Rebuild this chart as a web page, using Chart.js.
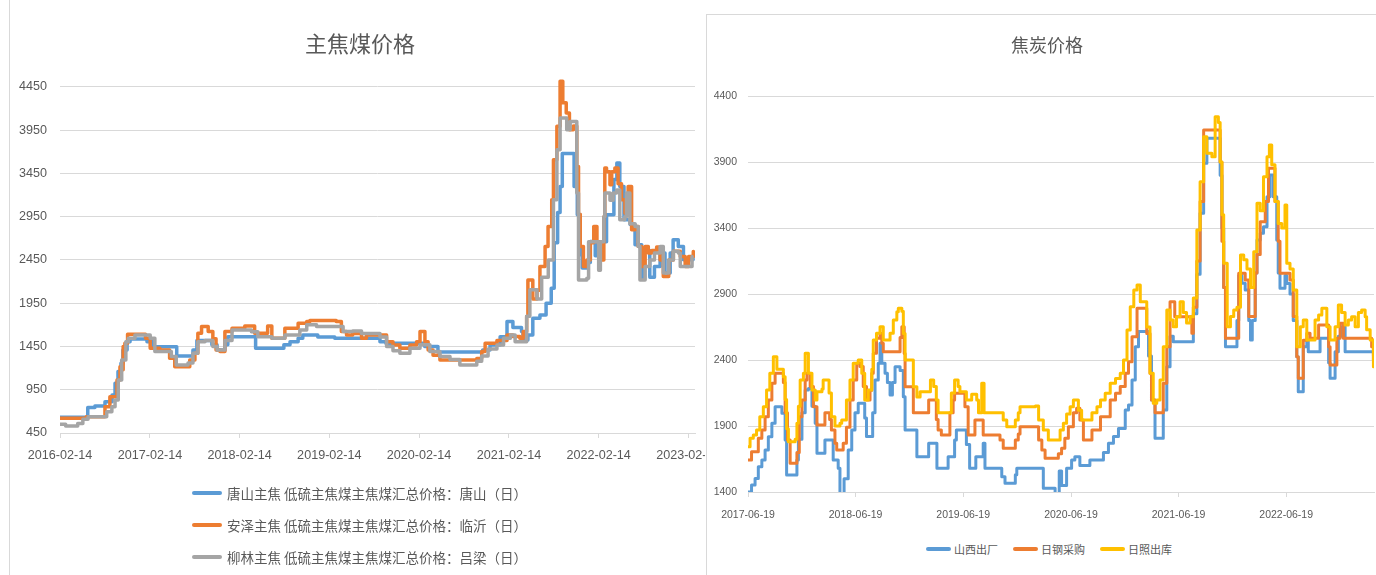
<!DOCTYPE html>
<html>
<head>
<meta charset="utf-8">
<script src="https://cdn.jsdelivr.net/npm/chart.js@4.4.1/dist/chart.umd.min.js"></script>
<style>
  body { margin: 0; width: 1376px; height: 575px; overflow: hidden; position: relative; background: #fff; color: #595959; font-family: 'Noto Sans CJK SC', sans-serif; }
  .panel { position: absolute; box-sizing: border-box; border: 1px solid #d9d9d9; background: #fff; }
  .box { position: absolute; }
  .title { position: absolute; transform: translate(-50%, -50%); white-space: nowrap; line-height: 1; }
  .legend-left { position: absolute; left: 192px; top: 477px; }
  .legend-left .item { display: flex; align-items: center; height: 32px; font-size: 13.5px; white-space: nowrap; }
  .legend-left .swatch { width: 30px; height: 4px; margin-right: 5px; }
  .legend-right { position: absolute; left: 926px; top: 539px; display: flex; }
  .legend-right .item { display: flex; align-items: center; height: 20px; font-size: 11px; margin-right: 15px; white-space: nowrap; }
  .legend-right .swatch { width: 25px; height: 4px; margin-right: 3px; }
  .swatch { border-radius: 2px; display: inline-block; }
</style>
</head>
<body>
<div class="panel" style="left:9px;top:-1px;width:699px;height:578px;border-right:none"></div>
<div class="box" style="left:10px;top:0;width:695px;height:480px"><canvas id="left"></canvas></div>
<div class="title" id="titleLeft" style="left:360px;top:42px;font-size:22px"></div>
<div class="legend-left" id="legendLeft"></div>
<div class="panel" style="left:706px;top:14px;width:672px;height:564px"></div>
<div class="box" style="left:707px;top:14px;width:669px;height:520px"><canvas id="right"></canvas></div>
<div class="title" id="titleRight" style="left:1047px;top:44px;font-size:18px"></div>
<div class="legend-right" id="legendRight"></div>
<script>
// 主焦煤价格
const leftTitle = '主焦煤价格';
const leftLabels = ['唐山主焦 低硫主焦煤主焦煤汇总价格：唐山（日）', '安泽主焦 低硫主焦煤主焦煤汇总价格：临沂（日）', '柳林主焦 低硫主焦煤主焦煤汇总价格：吕梁（日）'];
const leftTicksX = ['2016-02-14', '2017-02-14', '2018-02-14', '2019-02-14', '2020-02-14', '2021-02-14', '2022-02-14', '2023-02-14'];
const leftTicksY = [450, 950, 1450, 1950, 2450, 2950, 3450, 3950, 4450];

const tsDates = ['2016-02-14', '2016-06-06', '2016-07-05', '2016-08-15', '2016-09-13', '2016-09-25', '2016-10-07', '2016-10-19', '2016-10-27', '2016-11-13',
  '2016-11-25', '2017-02-02', '2017-02-27', '2017-06-03', '2017-08-08', '2017-08-24', '2017-10-24', '2017-11-14', '2017-12-16', '2017-12-28',
  '2018-04-20', '2018-08-13', '2018-09-07', '2018-10-10', '2018-10-29', '2018-12-29', '2019-03-08', '2019-09-08', '2019-10-02', '2020-03-08',
  '2020-05-01', '2020-10-30', '2020-11-29', '2021-01-09', '2021-02-06', '2021-03-02', '2021-04-06', '2021-04-12', '2021-05-02', '2021-05-22',
  '2021-06-20', '2021-07-15', '2021-08-05', '2021-08-17', '2021-08-31', '2021-09-10', '2021-09-19', '2021-11-06', '2021-11-19', '2021-12-01',
  '2021-12-09', '2021-12-29', '2022-01-11', '2022-01-31', '2022-03-03', '2022-03-18', '2022-04-17', '2022-04-29', '2022-05-11', '2022-05-28',
  '2022-06-22', '2022-07-12', '2022-08-08', '2022-08-20', '2022-09-10', '2022-09-29', '2022-10-22', '2022-11-11', '2022-12-02', '2022-12-14',
  '2023-01-04', '2023-01-25', '2023-03-05'];
const tsVals = [632, 745, 762, 812, 890, 1025, 1160, 1256, 1410, 1506,
  1537, 1506, 1448, 1340, 1410, 1518, 1470, 1410, 1470, 1564,
  1430, 1470, 1506, 1545, 1584, 1560, 1545, 1506, 1488, 1450,
  1385, 1410, 1466, 1564, 1738, 1670, 1622, 1526, 1584, 1777,
  1815, 1950, 2124, 2650, 3000, 3300, 3680, 3300, 2972, 2510,
  2356, 2420, 2664, 2500, 2660, 2972, 3380, 3570, 3300, 2915,
  2860, 2625, 2230, 2560, 2250, 2375, 2530, 2300, 2530, 2683,
  2606, 2452, 2490];

const azDates = ['2016-02-14', '2016-05-31', '2016-08-15', '2016-09-04', '2016-10-03', '2016-10-15', '2016-10-23', '2016-10-28', '2016-11-04', '2016-11-15',
  '2017-01-27', '2017-02-15', '2017-03-26', '2017-05-05', '2017-05-26', '2017-07-26', '2017-08-16', '2017-08-28', '2017-09-12', '2017-10-09',
  '2017-10-28', '2017-11-10', '2017-11-26', '2017-12-16', '2018-01-14', '2018-03-07', '2018-04-16', '2018-06-08', '2018-06-25', '2018-08-17',
  '2018-10-10', '2018-11-14', '2018-11-27', '2019-03-14', '2019-04-04', '2019-04-25', '2019-05-20', '2019-06-25', '2019-07-15', '2019-10-05',
  '2019-10-31', '2019-11-28', '2020-01-08', '2020-02-04', '2020-02-18', '2020-03-09', '2020-03-22', '2020-04-11', '2020-05-09', '2020-10-06',
  '2020-10-26', '2020-11-09', '2020-12-27', '2021-02-06', '2021-03-02', '2021-03-30', '2021-04-13', '2021-04-27', '2021-05-02', '2021-05-22',
  '2021-06-08', '2021-06-20', '2021-07-11', '2021-07-23', '2021-08-07', '2021-08-14', '2021-08-28', '2021-09-10', '2021-09-21', '2021-10-05',
  '2021-10-18', '2021-11-03', '2021-11-17', '2021-11-24', '2021-12-01', '2021-12-14', '2021-12-28', '2022-01-11', '2022-01-25', '2022-02-07',
  '2022-02-21', '2022-03-07', '2022-03-11', '2022-03-18', '2022-04-01', '2022-04-08', '2022-04-21', '2022-05-04', '2022-05-18', '2022-06-01',
  '2022-06-14', '2022-06-28', '2022-07-12', '2022-07-25', '2022-08-08', '2022-08-22', '2022-09-04', '2022-09-18', '2022-10-08', '2022-10-22',
  '2022-11-04', '2022-11-26', '2022-12-15', '2023-01-12', '2023-02-01', '2023-02-15', '2023-03-06'];
const azVals = [620, 639, 754, 870, 1063, 1217, 1180, 1450, 1488, 1592,
  1545, 1430, 1410, 1314, 1217, 1295, 1372, 1603, 1680, 1622,
  1540, 1410, 1391, 1622, 1660, 1688, 1603, 1688, 1545, 1660,
  1719, 1738, 1750, 1738, 1622, 1584, 1600, 1545, 1584, 1506,
  1468, 1430, 1468, 1506, 1622, 1506, 1410, 1350, 1295, 1310,
  1391, 1488, 1520, 1584, 1565, 1545, 1622, 1796, 2220, 2000,
  2100, 2375, 2606, 2837, 3146, 3609, 3995, 4517, 4267, 4150,
  3956, 4000, 3532, 2980, 2606, 2375, 2450, 2650, 2837, 2660,
  2450, 2950, 3513, 3470, 3320, 3470, 3513, 3330, 3146, 2990,
  3300, 2800, 2837, 2606, 2375, 2606, 2530, 2560, 2600, 2450,
  2259, 2450, 2550, 2490, 2375, 2490, 2548];

const llDates = ['2016-02-14', '2016-03-08', '2016-04-26', '2016-05-17', '2016-06-07', '2016-08-22', '2016-09-12', '2016-09-25', '2016-10-08', '2016-10-22',
  '2016-11-08', '2016-11-18', '2016-12-15', '2017-02-15', '2017-03-06', '2017-05-12', '2017-06-01', '2017-07-19', '2017-08-08', '2017-08-28',
  '2017-09-26', '2017-10-28', '2017-11-14', '2017-12-16', '2018-01-14', '2018-04-03', '2018-04-29', '2018-06-25', '2018-08-17', '2018-10-17',
  '2018-11-14', '2018-12-24', '2019-04-11', '2019-05-20', '2019-06-25', '2019-09-08', '2019-10-05', '2019-10-31', '2019-11-28', '2020-01-08',
  '2020-02-18', '2020-03-29', '2020-05-09', '2020-06-19', '2020-07-29', '2020-10-06', '2020-10-26', '2020-11-21', '2020-12-27', '2021-01-23',
  '2021-02-20', '2021-03-11', '2021-04-27', '2021-05-10', '2021-06-08', '2021-06-27', '2021-07-24', '2021-08-14', '2021-08-28', '2021-09-10',
  '2021-10-07', '2021-10-21', '2021-11-17', '2021-11-24', '2021-12-28', '2022-01-04', '2022-02-14', '2022-02-21', '2022-03-07', '2022-03-11',
  '2022-04-01', '2022-04-14', '2022-04-28', '2022-05-11', '2022-05-31', '2022-06-07', '2022-06-21', '2022-07-12', '2022-07-25', '2022-08-01',
  '2022-08-22', '2022-09-10', '2022-09-29', '2022-10-22', '2022-11-04', '2022-11-26', '2022-12-15', '2023-01-04', '2023-01-12', '2023-02-15',
  '2023-03-01'];
const llVals = [550, 531, 560, 608, 639, 696, 754, 832, 1063, 1295,
  1506, 1545, 1584, 1545, 1391, 1333, 1237, 1260, 1372, 1506,
  1520, 1450, 1410, 1520, 1642, 1620, 1564, 1545, 1584, 1642,
  1700, 1680, 1622, 1630, 1600, 1560, 1450, 1400, 1372, 1430,
  1470, 1391, 1333, 1300, 1237, 1280, 1340, 1420, 1468, 1545,
  1584, 1506, 1800, 2105, 2000, 2250, 2450, 3146, 3724, 4091,
  3956, 4052, 3224, 2220, 2240, 2660, 2330, 2660, 2950, 3224,
  3140, 3224, 3260, 2915, 2950, 3224, 2870, 2837, 2606, 2220,
  2375, 2450, 2530, 2606, 2300, 2450, 2550, 2530, 2375, 2375,
  2490];

// 焦炭价格
const rightTitle = '焦炭价格';
const rightLabels = ['山西出厂', '日钢采购', '日照出库'];
const rightTicksX = ['2017-06-19', '2018-06-19', '2019-06-19', '2020-06-19', '2021-06-19', '2022-06-19'];
const rightTicksY = [1400, 1900, 2400, 2900, 3400, 3900, 4400];

const sxDates = ['2017-06-19', '2017-07-01', '2017-07-13', '2017-07-24', '2017-08-05', '2017-08-16', '2017-08-27', '2017-09-08', '2017-09-19', '2017-10-12',
  '2017-10-23', '2017-10-28', '2017-12-02', '2017-12-07', '2017-12-19', '2017-12-30', '2018-01-10', '2018-01-22', '2018-02-02', '2018-02-08',
  '2018-03-07', '2018-04-04', '2018-04-21', '2018-04-27', '2018-05-11', '2018-05-25', '2018-06-06', '2018-06-17', '2018-06-28', '2018-07-20',
  '2018-07-26', '2018-08-16', '2018-08-24', '2018-09-04', '2018-09-10', '2018-09-16', '2018-09-27', '2018-10-05', '2018-10-14', '2018-10-22',
  '2018-10-31', '2018-11-17', '2018-11-28', '2018-12-04', '2019-01-13', '2019-02-22', '2019-03-22', '2019-04-29', '2019-05-21', '2019-05-27',
  '2019-06-30', '2019-07-11', '2019-08-01', '2019-08-26', '2019-09-01', '2019-10-28', '2019-11-08', '2019-12-13', '2019-12-18', '2020-03-17',
  '2020-04-26', '2020-05-10', '2020-05-18', '2020-06-04', '2020-06-21', '2020-07-02', '2020-07-19', '2020-08-22', '2020-10-07', '2020-10-24',
  '2020-11-10', '2020-11-27', '2020-12-20', '2020-12-31', '2021-01-12', '2021-01-23', '2021-02-03', '2021-03-09', '2021-03-19', '2021-03-31',
  '2021-04-28', '2021-05-10', '2021-05-21', '2021-06-01', '2021-08-08', '2021-08-20', '2021-08-31', '2021-09-12', '2021-09-23', '2021-11-07',
  '2021-11-13', '2021-11-19', '2021-11-25', '2022-01-03', '2022-01-09', '2022-01-20', '2022-01-31', '2022-02-12', '2022-02-18', '2022-02-24',
  '2022-03-06', '2022-03-12', '2022-03-23', '2022-04-03', '2022-04-15', '2022-04-25', '2022-05-06', '2022-05-18', '2022-05-23', '2022-05-29',
  '2022-06-15', '2022-06-21', '2022-07-02', '2022-07-13', '2022-07-25', '2022-07-30', '2022-08-16', '2022-08-28', '2022-09-02', '2022-10-12',
  '2022-11-10', '2022-11-15', '2022-12-02', '2022-12-13', '2022-12-24', '2023-01-05', '2023-04-11'];
const sxVals = [1400, 1453, 1503, 1592, 1642, 1718, 1819, 1920, 2046, 1996,
  1794, 1529, 1642, 1800, 2000, 2173, 2185, 2050, 1920, 1693,
  1794, 1642, 1580, 1380, 1500, 1718, 1870, 2000, 2072, 1960,
  1820, 2000, 2248, 2375, 2526, 2375, 2299, 2230, 2135, 2230,
  2349, 2320, 2122, 1870, 1667, 1769, 1580, 1667, 1794, 1870,
  1760, 1580, 1667, 1769, 1580, 1516, 1466, 1530, 1580, 1428,
  1350, 1560, 1450, 1580, 1642, 1667, 1600, 1642, 1700, 1769,
  1820, 1882, 2021, 2060, 2248, 2501, 2615, 2430, 2097, 1807,
  2021, 2349, 2580, 2539, 2750, 3050, 3511, 3890, 4079, 3800,
  3400, 2950, 2501, 2700, 3040, 2981, 2930, 2700, 2552, 2700,
  3060, 3309, 3360, 3410, 3637, 3802, 3637, 3309, 3060, 2943,
  3040, 2980, 2900, 2700, 2425, 2160, 2501, 2552, 2463, 2564,
  2380, 2261, 2463, 2580, 2652, 2463, 2400];

const rgDates = ['2017-06-19', '2017-07-01', '2017-07-24', '2017-08-05', '2017-08-16', '2017-08-27', '2017-09-08', '2017-09-19', '2017-10-17', '2017-10-23',
  '2017-10-31', '2017-11-09', '2017-12-02', '2017-12-10', '2017-12-19', '2017-12-30', '2018-01-05', '2018-01-16', '2018-01-27', '2018-02-08',
  '2018-03-07', '2018-03-23', '2018-03-29', '2018-04-10', '2018-04-16', '2018-05-08', '2018-05-19', '2018-05-31', '2018-06-11', '2018-06-23',
  '2018-07-04', '2018-07-15', '2018-07-26', '2018-08-07', '2018-08-13', '2018-08-18', '2018-08-29', '2018-09-10', '2018-09-16', '2018-09-21',
  '2018-11-17', '2018-11-23', '2018-12-01', '2018-12-04', '2019-01-01', '2019-02-22', '2019-03-20', '2019-03-26', '2019-04-06', '2019-05-05',
  '2019-05-16', '2019-05-21', '2019-06-25', '2019-07-06', '2019-07-29', '2019-08-26', '2019-10-22', '2019-11-02', '2019-12-13', '2019-12-23',
  '2019-12-29', '2020-03-01', '2020-03-12', '2020-03-23', '2020-05-07', '2020-05-18', '2020-05-29', '2020-06-10', '2020-06-27', '2020-07-08',
  '2020-07-19', '2020-07-31', '2020-08-29', '2020-09-27', '2020-10-30', '2020-11-17', '2020-12-03', '2020-12-20', '2020-12-31', '2021-01-12',
  '2021-01-29', '2021-03-03', '2021-03-14', '2021-03-19', '2021-03-31', '2021-04-28', '2021-05-10', '2021-05-21', '2021-06-06', '2021-08-03',
  '2021-08-08', '2021-08-20', '2021-08-31', '2021-09-12', '2021-11-07', '2021-11-13', '2021-11-19', '2021-11-25', '2022-01-09', '2022-01-31',
  '2022-02-12', '2022-03-06', '2022-03-12', '2022-03-23', '2022-04-09', '2022-04-20', '2022-05-12', '2022-05-23', '2022-05-29', '2022-07-02',
  '2022-07-13', '2022-07-25', '2022-07-30', '2022-08-16', '2022-08-28', '2022-09-08', '2022-10-07', '2022-11-10', '2022-11-15', '2022-12-08',
  '2022-12-19', '2022-12-30', '2023-04-05', '2023-04-11'];
const rgVals = [1642, 1705, 1807, 1870, 1970, 2097, 2223, 2299, 2230, 2000,
  1794, 1617, 1700, 1970, 2097, 2248, 2299, 2200, 2046, 1908,
  2000, 1950, 1870, 1769, 1718, 1769, 1890, 2097, 2248, 2375,
  2350, 2200, 2097, 2170, 2299, 2451, 2564, 2600, 2526, 2463,
  2570, 2652, 2450, 2198, 2000, 2097, 1950, 1870, 1832, 2000,
  2097, 2148, 2046, 1832, 1945, 1832, 1794, 1731, 1794, 1840,
  1895, 1794, 1718, 1655, 1690, 1731, 1807, 1895, 2000, 2034,
  1945, 1794, 1870, 1970, 2097, 2148, 2200, 2299, 2387, 2577,
  2792, 2600, 2299, 2097, 2000, 2223, 2500, 2842, 2728, 2602,
  2800, 3150, 3600, 4143, 3900, 3300, 2950, 2564, 3057, 3007,
  2730, 3060, 3200, 3448, 3600, 3852, 3600, 3300, 3057, 3007,
  2730, 2425, 2261, 2550, 2602, 2564, 2665, 2500, 2362, 2564,
  2678, 2564, 2500, 2430];

const rzDates = ['2017-06-19', '2017-06-26', '2017-07-07', '2017-07-18', '2017-07-29', '2017-08-10', '2017-08-21', '2017-09-01', '2017-09-13', '2017-09-25',
  '2017-10-17', '2017-10-23', '2017-10-28', '2017-11-03', '2017-11-26', '2017-12-02', '2017-12-07', '2017-12-13', '2017-12-24', '2017-12-30',
  '2018-01-10', '2018-01-22', '2018-02-02', '2018-02-08', '2018-02-25', '2018-03-01', '2018-03-21', '2018-03-29', '2018-04-10', '2018-04-27',
  '2018-05-03', '2018-05-19', '2018-05-31', '2018-06-11', '2018-06-28', '2018-07-10', '2018-07-20', '2018-08-01', '2018-08-13', '2018-08-18',
  '2018-08-29', '2018-09-10', '2018-09-21', '2018-10-14', '2018-10-25', '2018-11-06', '2018-11-11', '2018-11-23', '2018-11-28', '2018-12-04',
  '2018-12-26', '2019-01-01', '2019-01-13', '2019-01-24', '2019-02-28', '2019-03-11', '2019-03-20', '2019-03-26', '2019-04-29', '2019-05-10',
  '2019-05-21', '2019-06-02', '2019-06-08', '2019-06-30', '2019-07-18', '2019-08-04', '2019-08-10', '2019-08-21', '2019-08-29', '2019-10-22',
  '2019-11-02', '2019-11-14', '2019-12-01', '2019-12-13', '2019-12-23', '2019-12-29', '2020-02-19', '2020-03-01', '2020-03-17', '2020-04-03',
  '2020-05-02', '2020-05-13', '2020-05-24', '2020-06-04', '2020-06-16', '2020-06-27', '2020-07-14', '2020-07-25', '2020-08-17', '2020-08-29',
  '2020-09-15', '2020-09-27', '2020-10-13', '2020-10-30', '2020-11-17', '2020-12-03', '2020-12-14', '2020-12-26', '2021-01-06', '2021-01-18',
  '2021-01-29', '2021-02-09', '2021-03-03', '2021-03-14', '2021-03-25', '2021-04-06', '2021-04-17', '2021-04-28', '2021-05-10', '2021-05-21',
  '2021-06-01', '2021-06-12', '2021-06-24', '2021-07-05', '2021-07-16', '2021-07-28', '2021-08-08', '2021-08-20', '2021-08-31', '2021-09-12',
  '2021-09-23', '2021-10-10', '2021-10-21', '2021-11-01', '2021-11-07', '2021-11-13', '2021-11-19', '2021-12-01', '2021-12-12', '2021-12-23',
  '2022-01-03', '2022-01-15', '2022-01-26', '2022-02-06', '2022-02-18', '2022-03-01', '2022-03-12', '2022-03-23', '2022-04-03', '2022-04-15',
  '2022-04-23', '2022-05-01', '2022-05-12', '2022-05-23', '2022-06-04', '2022-06-15', '2022-06-21', '2022-07-02', '2022-07-13', '2022-07-25',
  '2022-08-06', '2022-08-16', '2022-08-28', '2022-09-08', '2022-09-25', '2022-10-07', '2022-10-18', '2022-11-04', '2022-11-15', '2022-12-02',
  '2022-12-13', '2022-12-24', '2023-01-05', '2023-01-16', '2023-01-27', '2023-02-08', '2023-02-19', '2023-03-02', '2023-03-14', '2023-03-19',
  '2023-03-31', '2023-04-11'];
const rzVals = [1743, 1807, 1832, 1870, 1970, 2046, 2173, 2299, 2425, 2330,
  2274, 2100, 1880, 1780, 1800, 1920, 2050, 2248, 2300, 2451,
  2300, 2173, 2097, 2160, 2180, 2248, 2150, 1970, 1900, 1920,
  1945, 2097, 2248, 2375, 2400, 2300, 2097, 2173, 2330, 2552,
  2602, 2652, 2552, 2602, 2703, 2766, 2792, 2770, 2600, 2400,
  2400, 2198, 2120, 2160, 2248, 2200, 2097, 2000, 2000, 2150,
  2248, 2200, 2160, 2097, 2140, 2097, 2000, 2223, 2000, 2000,
  1945, 1895, 1895, 1945, 2000, 2046, 2052, 1945, 1870, 1794,
  1794, 1870, 1920, 1990, 2046, 2097, 2020, 1945, 1945, 2000,
  2046, 2097, 2148, 2223, 2260, 2299, 2400, 2627, 2804, 2930,
  2968, 2842, 2650, 2299, 2072, 2097, 2248, 2501, 2779, 2703,
  2652, 2728, 2842, 2760, 2680, 2728, 2870, 3385, 3750, 4092,
  3966, 3940, 4243, 4200, 3900, 3500, 3133, 2652, 2730, 2779,
  2800, 3195, 3160, 3090, 2950, 3220, 3587, 3530, 3789, 3940,
  4029, 3880, 3600, 3435, 3400, 3574, 3133, 3090, 2930, 2501,
  2652, 2703, 2552, 2552, 2703, 2740, 2792, 2652, 2552, 2652,
  2817, 2760, 2665, 2703, 2728, 2652, 2760, 2779, 2728, 2630,
  2552, 2349];

const COLORS = ['#5B9BD5', '#ED7D31', '#A5A5A5'];
const RIGHT_COLORS = ['#5B9BD5', '#ED7D31', '#FFC000'];
const TEXT = '#595959';
const GRID = '#d9d9d9';

Chart.defaults.font.family = "'Liberation Sans', 'Noto Sans CJK SC', sans-serif";
Chart.defaults.color = TEXT;

const day = s => Date.parse(s) / 864e5;
const toPoints = (dates, vals) => dates.map((d, i) => ({ x: day(d), y: vals[i] }));

function line(label, color, dates, vals, width, order) {
  return {
    label,
    data: toPoints(dates, vals),
    borderColor: color,
    backgroundColor: color,
    borderWidth: width,
    stepped: true,
    pointRadius: 0,
    borderJoinStyle: 'round',
    borderCapStyle: 'round',
    order
  };
}

function makeChart(el, cfg) {
  return new Chart(el, {
    type: 'line',
    data: { datasets: cfg.datasets },
    options: {
      responsive: true,
      maintainAspectRatio: false,
      animation: false,
      layout: { padding: cfg.padding },
      plugins: {
        legend: { display: false },
        tooltip: { enabled: false },
        title: { display: false }
      },
      scales: {
        x: {
          type: 'linear',
          min: day(cfg.xMin),
          max: day(cfg.xMax),
          grid: { drawOnChartArea: false, drawTicks: true, tickLength: 5, color: GRID },
          border: { display: true, color: GRID },
          ticks: {
            autoSkip: false, maxRotation: 0, minRotation: 0,
            padding: cfg.xPad,
            font: { size: cfg.tickSize },
            callback: (v, i) => cfg.ticksX[i]
          },
          afterBuildTicks: s => { s.ticks = cfg.ticksX.map(d => ({ value: day(d) })); },
          afterFit: s => { s.height = cfg.xHeight; s.paddingLeft = 0; s.paddingRight = 0; }
        },
        y: {
          min: cfg.yMin,
          max: cfg.yMax,
          grid: { color: GRID, drawTicks: false },
          border: { display: false },
          ticks: { padding: cfg.yPad, font: { size: cfg.tickSize }, callback: v => String(v) },
          afterBuildTicks: s => { s.ticks = cfg.ticksY.map(v => ({ value: v })); },
          afterFit: s => { s.width = cfg.yWidth; s.paddingTop = 0; s.paddingBottom = 0; }
        }
      }
    }
  });
}

document.getElementById('titleLeft').textContent = leftTitle;
document.getElementById('titleRight').textContent = rightTitle;

makeChart(document.getElementById('left'), {
  padding: { left: 0, right: 10, top: 74, bottom: 0 },
  datasets: [
    line(leftLabels[0], COLORS[0], tsDates, tsVals, 3.5, 3),
    line(leftLabels[1], COLORS[1], azDates, azVals, 3.5, 2),
    line(leftLabels[2], COLORS[2], llDates, llVals, 3.5, 1)
  ],
  xMin: '2016-02-14', xMax: '2023-03-13',
  yMin: 450, yMax: 4600,
  ticksX: leftTicksX, ticksY: leftTicksY,
  tickSize: 12.6, xPad: 10, yPad: 13,
  xHeight: 47, yWidth: 50
});

makeChart(document.getElementById('right'), {
  padding: { left: 0, right: 2, top: 82, bottom: 0 },
  datasets: [
    line(rightLabels[0], RIGHT_COLORS[0], sxDates, sxVals, 3, 3),
    line(rightLabels[1], RIGHT_COLORS[1], rgDates, rgVals, 3, 2),
    line(rightLabels[2], RIGHT_COLORS[2], rzDates, rzVals, 3, 1)
  ],
  xMin: '2017-06-19', xMax: '2023-04-13',
  yMin: 1400, yMax: 4400,
  ticksX: rightTicksX, ticksY: rightTicksY,
  tickSize: 10.5, xPad: 12, yPad: 11,
  xHeight: 42, yWidth: 41
});

// HTML legends
function renderLegend(el, labels, colors) {
  labels.forEach((label, i) => {
    const item = document.createElement('div');
    item.className = 'item';
    const sw = document.createElement('span');
    sw.className = 'swatch';
    sw.style.background = colors[i];
    item.append(sw, document.createTextNode(label));
    el.append(item);
  });
}
renderLegend(document.getElementById('legendLeft'), leftLabels, COLORS);
renderLegend(document.getElementById('legendRight'), rightLabels, RIGHT_COLORS);
</script>
</body>
</html>
